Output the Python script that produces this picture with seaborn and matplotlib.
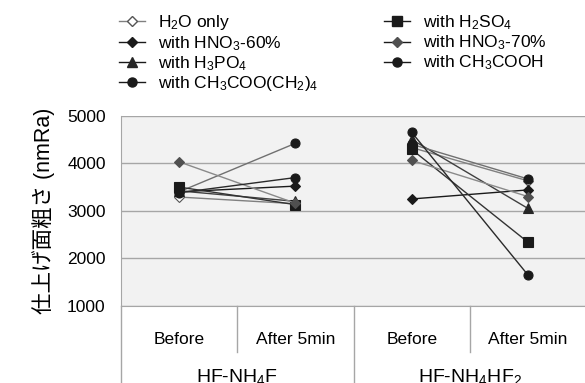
import pandas as pd
import seaborn as sb
from matplotlib import pyplot as plt
from matplotlib.lines import Line2D

# ----------------------------------------------------
# --- Data ---
# ----------------------------------------------------
series_names = [
    "H$_2$O only",
    "with HNO$_3$-60%",
    "with H$_3$PO$_4$",
    "with CH$_3$COO(CH$_2$)$_4$",
    "with H$_2$SO$_4$",
    "with HNO$_3$-70%",
    "with CH$_3$COOH",
]
categories = ["Before", "After 5min", "Before", "After 5min"]
groups = ["HF-NH$_4$F", "HF-NH$_4$HF$_2$"]

# values per series: [HF-NH4F before, after, HF-NH4HF2 before, after]
h2o_only = [3290, 3150, 4330, 3630]
hno3_60 = [3400, 3520, 3250, 3440]
h3po4 = [3420, 3200, 4500, 3050]
ch3coo_ch2_4 = [3400, 4420, 4400, 3670]
h2so4 = [3500, 3130, 4290, 2340]
hno3_70 = [4030, 3160, 4060, 3300]
ch3cooh = [3380, 3700, 4650, 1650]
all_values = [h2o_only, hno3_60, h3po4, ch3coo_ch2_4, h2so4, hno3_70, ch3cooh]

# styles (marker, face, edge, line colour)
styles = [
    ("D", "white", "#555555", "#808080"),
    ("D", "#1a1a1a", "#1a1a1a", "#1a1a1a"),
    ("^", "#262626", "#262626", "#404040"),
    ("o", "#1a1a1a", "#1a1a1a", "#707070"),
    ("s", "#1a1a1a", "#1a1a1a", "#333333"),
    ("D", "#505050", "#505050", "#8a8a8a"),
    ("o", "#1a1a1a", "#1a1a1a", "#2a2a2a"),
]

rows = []
for name, vals in zip(series_names, all_values):
    for i, v in enumerate(vals):
        rows.append({"series": name, "pos": i, "group": i // 2, "value": v})
df = pd.DataFrame(rows)

# ----------------------------------------------------
# --- Layout ---
# ----------------------------------------------------
plt.rcParams["font.family"] = ["Liberation Sans", "Noto Sans CJK JP"]
plt.rcParams["mathtext.fontset"] = "custom"
plt.rcParams["mathtext.rm"] = "Liberation Sans"
plt.rcParams["mathtext.it"] = "Liberation Sans:italic"

fig = plt.figure(figsize=(5.85, 3.83), dpi=100)
ax = fig.add_axes([121 / 585, 1 - 306 / 383, (585 - 121) / 585, (306 - 115.7) / 383])
ax.set_facecolor("#f2f2f2")

for (name, (mk, fc, ec, lc)) in zip(series_names, styles):
    sub = df[df["series"] == name]
    sb.lineplot(
        data=sub, x="pos", y="value", units="group", estimator=None,
        color=lc, linewidth=1.0, marker=mk, markersize=6.5 if mk != "D" else 5.5,
        markerfacecolor=fc, markeredgecolor=ec, markeredgewidth=0.8,
        ax=ax, legend=False, zorder=3,
    )

ax.set_xlim(-0.5, 3.49)
ax.set_ylim(1000, 5000)
ax.set_yticks([1000, 2000, 3000, 4000, 5000])
ax.yaxis.grid(True, color="#a6a6a6", linewidth=1.0)
ax.set_axisbelow(True)
ax.tick_params(axis="y", length=0, pad=11, labelsize=12.5)
ax.set_xticks([])
ax.set_xlabel("")
ax.set_ylabel("仕上げ面粗さ (nmRa)", fontsize=15.5, labelpad=9)
for s in ["top", "right"]:
    ax.spines[s].set_visible(False)
ax.spines["left"].set_color("#a6a6a6")
ax.spines["bottom"].set_color("#a6a6a6")

# two-level category axis
tr = ax.get_xaxis_transform()
axh = 306 - 115.7
for i, c in enumerate(categories):
    ax.text(i, -(340 - 306) / axh, c, transform=tr, ha="center", va="center", fontsize=12.5)
for xs in [0.5, 2.5]:
    ax.plot([xs, xs], [0, -(352 - 306) / axh], transform=tr, color="#a6a6a6", lw=1, clip_on=False)
for xs in [-0.5, 1.5]:
    ax.plot([xs, xs], [0, -(383 - 306) / axh], transform=tr, color="#a6a6a6", lw=1, clip_on=False)
for g, name in enumerate(groups):
    ax.text(g * 2 + 0.5, -(382 - 306) / axh, name, transform=tr, ha="center", va="baseline",
            fontsize=14)

# legend
handles = []
for name, (mk, fc, ec, lc) in zip(series_names, styles):
    handles.append(Line2D([0], [0], color="#1a1a1a" if fc != "white" else "#808080", lw=1.0,
                          marker=mk, markersize=6.5 if mk != "D" else 5.5,
                          markerfacecolor=fc, markeredgecolor=ec, label=name))
fig.legend(handles=handles, loc="upper left", bbox_to_anchor=(119 / 585, 1 - 13.5 / 383), ncol=2,
           frameon=False, fontsize=12.5, handlelength=1.5, handletextpad=0.75,
           columnspacing=3.75, labelspacing=0.08, borderpad=0, borderaxespad=0)

fig.savefig("out.png", dpi=100)
plt.close()
